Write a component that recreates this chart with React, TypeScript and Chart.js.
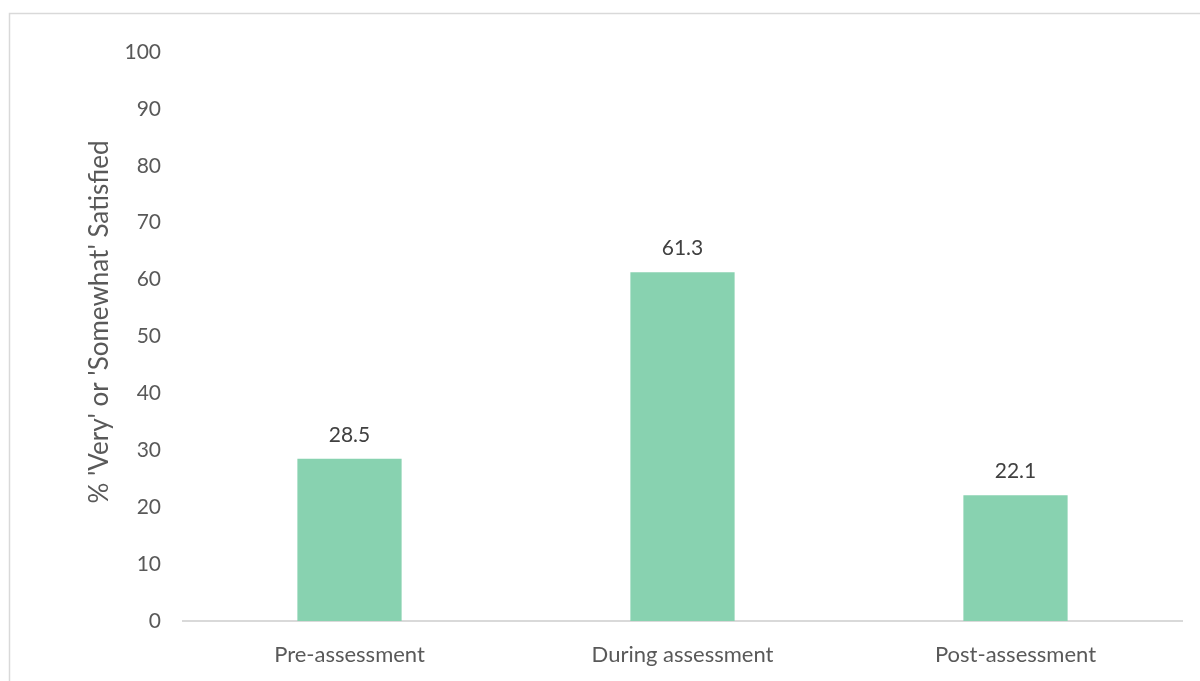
import React, { useEffect, useRef } from "react";
import { Chart, registerables } from "chart.js";

Chart.register(...registerables);

const categories = ["Pre-assessment", "During assessment", "Post-assessment"];
const satisfiedValues = [28.5, 61.3, 22.1];
const yTickMax = 100;
const yTickStep = 10;
const yAxisTitle = "% 'Very' or 'Somewhat' Satisfied";

const FONT = "Lato, 'Open Sans', sans-serif";

const borderPlugin = {
  id: "outerBorder",
  beforeDraw(chart: any) {
    const ctx = chart.ctx;
    ctx.save();
    ctx.fillStyle = "#ffffff";
    ctx.fillRect(0, 0, chart.width, chart.height);
    ctx.strokeStyle = "#d9d9d9";
    ctx.lineWidth = 1.5;
    ctx.strokeRect(9.5, 13.5, chart.width + 20, chart.height + 20);
    ctx.restore();
  },
};

const titlePlugin = {
  id: "yTitle",
  afterDraw(chart: any) {
    const ctx = chart.ctx;
    ctx.save();
    ctx.font = `26px ${FONT}`;
    ctx.fillStyle = "#595959";
    ctx.textAlign = "center";
    ctx.textBaseline = "middle";
    ctx.translate(100, 322);
    ctx.rotate(-Math.PI / 2);
    ctx.fillText(yAxisTitle, 0, 0);
    ctx.restore();
  },
};

const labelPlugin = {
  id: "barValueLabels",
  afterDatasetsDraw(chart: any) {
    const ctx = chart.ctx;
    const meta = chart.getDatasetMeta(0);
    ctx.save();
    ctx.font = `21px ${FONT}`;
    ctx.fillStyle = "#404040";
    ctx.textAlign = "center";
    ctx.textBaseline = "middle";
    meta.data.forEach((bar: any, i: number) => {
      const v = chart.data.datasets[0].data[i];
      ctx.fillText(String(v), bar.x, bar.y - 24);
    });
    ctx.restore();
  },
};

export default function App() {
  const ref = useRef<HTMLCanvasElement | null>(null);
  useEffect(() => {
    document.body.style.margin = "0";
    if (!ref.current) return;
    const chart = new Chart(ref.current, {
      type: "bar",
      data: {
        labels: categories,
        datasets: [
          {
            data: satisfiedValues,
            backgroundColor: "#88d2b0",
            categoryPercentage: 1,
            barPercentage: 0.313,
          },
        ],
      },
      options: {
        animation: false,
        responsive: false,
        devicePixelRatio: 1,
        layout: { padding: { top: 52, right: 18, left: 0, bottom: 0 } },
        plugins: {
          legend: { display: false },
          tooltip: { enabled: false },
        },
        scales: {
          x: {
            grid: { display: false },
            border: { display: true, color: "#d9d9d9", width: 2 },
            ticks: {
              color: "#595959",
              font: { family: FONT, size: 22 },
              padding: 13,
              maxRotation: 0,
            },
            afterFit(scale: any) {
              scale.height = 60;
            },
          },
          y: {
            min: 0,
            max: yTickMax,
            grid: { display: false, drawTicks: false },
            border: { display: false },
            ticks: {
              stepSize: yTickStep,
              color: "#595959",
              font: { family: FONT, size: 21 },
              padding: 22,
            },
            afterFit(scale: any) {
              scale.width = 183;
            },
          },
        },
      },
      plugins: [borderPlugin, labelPlugin, titlePlugin],
    });
    return () => chart.destroy();
  }, []);
  return <canvas ref={ref} width={1200} height={681} style={{ display: "block" }} />;
}
